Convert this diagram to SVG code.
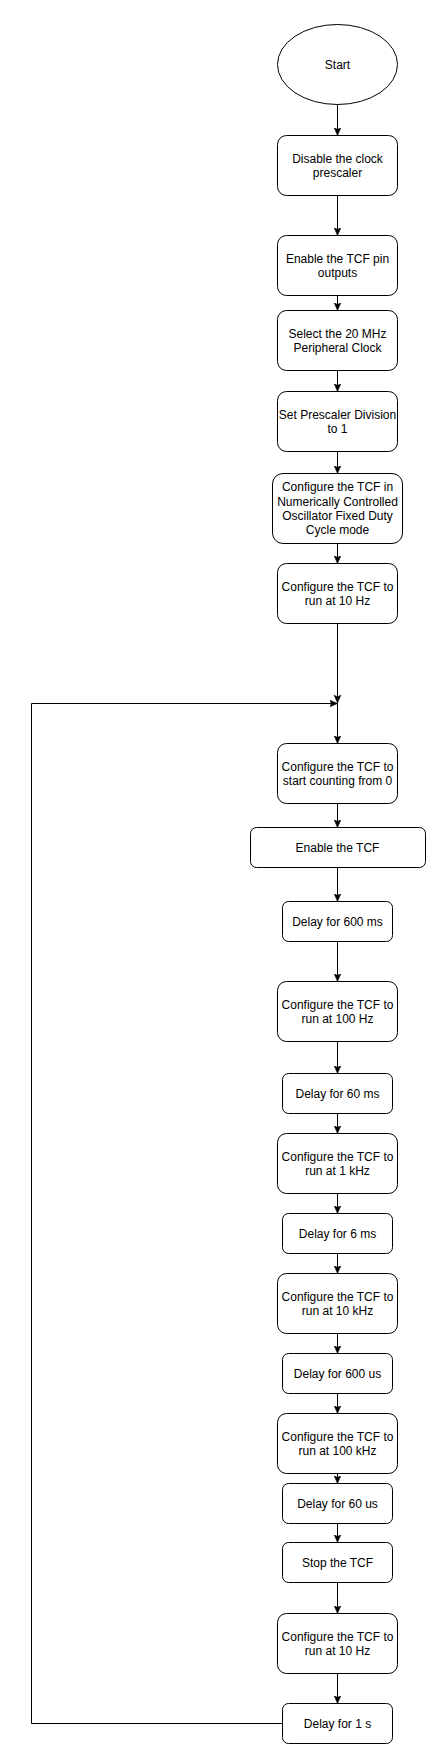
<svg xmlns="http://www.w3.org/2000/svg" width="426" height="1744" viewBox="0 0 426 1744">
<defs>
<style>
.n{fill:#fff;stroke:#000;stroke-width:1}
.t{font-family:"Liberation Sans",Arial,Helvetica,sans-serif;font-size:12px;fill:#000;text-anchor:middle}
.c{fill:none;stroke:#000;stroke-width:1}
</style>
<marker id="arr" markerWidth="10" markerHeight="10" viewBox="0 0 10 10" refX="8" refY="5" orient="auto" markerUnits="userSpaceOnUse">
<path d="M0,1.5 L8,5 L0,8.5 L2,5 Z" fill="#000" stroke="#000" stroke-width="0.5"/>
</marker>
</defs>
<rect width="426" height="1744" fill="#fff"/>
<g id="connectors">
<path class="c" d="M337.5,104.5 V135.5" marker-end="url(#arr)"/>
<path class="c" d="M337.5,195.5 V235.5" marker-end="url(#arr)"/>
<path class="c" d="M337.5,295.5 V310.5" marker-end="url(#arr)"/>
<path class="c" d="M337.5,370.5 V391.5" marker-end="url(#arr)"/>
<path class="c" d="M337.5,451.5 V473.5" marker-end="url(#arr)"/>
<path class="c" d="M337.5,543.5 V563.5" marker-end="url(#arr)"/>
<path class="c" d="M337.5,623.5 V703" marker-end="url(#arr)"/>
<path class="c" d="M282.5,1723.5 H31.5 V703.5 H337.5" marker-end="url(#arr)"/>
<path class="c" d="M337.5,703.5 V743.5" marker-end="url(#arr)"/>
<path class="c" d="M337.5,803.5 V827.5" marker-end="url(#arr)"/>
<path class="c" d="M337.5,867.5 V901.5" marker-end="url(#arr)"/>
<path class="c" d="M337.5,941.5 V981.5" marker-end="url(#arr)"/>
<path class="c" d="M337.5,1041.5 V1073.5" marker-end="url(#arr)"/>
<path class="c" d="M337.5,1113.5 V1133.5" marker-end="url(#arr)"/>
<path class="c" d="M337.5,1193.5 V1213.5" marker-end="url(#arr)"/>
<path class="c" d="M337.5,1253.5 V1273.5" marker-end="url(#arr)"/>
<path class="c" d="M337.5,1333.5 V1353.5" marker-end="url(#arr)"/>
<path class="c" d="M337.5,1393.5 V1413.5" marker-end="url(#arr)"/>
<path class="c" d="M337.5,1473.5 V1483.5" marker-end="url(#arr)"/>
<path class="c" d="M337.5,1523.5 V1542.5" marker-end="url(#arr)"/>
<path class="c" d="M337.5,1582.5 V1613.5" marker-end="url(#arr)"/>
<path class="c" d="M337.5,1673.5 V1703.5" marker-end="url(#arr)"/>
</g>
<g id="start"><ellipse class="n" cx="337.5" cy="64.5" rx="60" ry="40"/><text class="t" x="337.5" y="68.8">Start</text></g>
<g id="n1"><rect class="n" x="277.5" y="135.5" width="120" height="60" rx="9"/><text class="t" x="337.5" y="162.6">Disable the clock</text><text class="t" x="337.5" y="177">prescaler</text></g>
<g id="n2"><rect class="n" x="277.5" y="235.5" width="120" height="60" rx="9"/><text class="t" x="337.5" y="262.6">Enable the TCF pin</text><text class="t" x="337.5" y="277">outputs</text></g>
<g id="n3"><rect class="n" x="277.5" y="310.5" width="120" height="60" rx="9"/><text class="t" x="337.5" y="337.6">Select the 20 MHz</text><text class="t" x="337.5" y="352">Peripheral Clock</text></g>
<g id="n4"><rect class="n" x="277.5" y="391.5" width="120" height="60" rx="9"/><text class="t" x="337.5" y="418.6">Set Prescaler Division</text><text class="t" x="337.5" y="433">to 1</text></g>
<g id="n5"><rect class="n" x="272.5" y="473.5" width="130" height="70" rx="10.5"/><text class="t" x="337.5" y="491.2">Configure the TCF in</text><text class="t" x="337.5" y="505.6">Numerically Controlled</text><text class="t" x="337.5" y="520">Oscillator Fixed Duty</text><text class="t" x="337.5" y="534.4">Cycle mode</text></g>
<g id="n6"><rect class="n" x="277.5" y="563.5" width="120" height="60" rx="9"/><text class="t" x="337.5" y="590.6">Configure the TCF to</text><text class="t" x="337.5" y="605">run at 10 Hz</text></g>
<g id="n7"><rect class="n" x="277.5" y="743.5" width="120" height="60" rx="9"/><text class="t" x="337.5" y="770.6">Configure the TCF to</text><text class="t" x="337.5" y="785">start counting from 0</text></g>
<g id="n8"><rect class="n" x="250.5" y="827.5" width="175" height="40" rx="6"/><text class="t" x="337.5" y="851.8">Enable the TCF</text></g>
<g id="n9"><rect class="n" x="282.5" y="901.5" width="110" height="40" rx="6"/><text class="t" x="337.5" y="925.8">Delay for 600 ms</text></g>
<g id="n10"><rect class="n" x="277.5" y="981.5" width="120" height="60" rx="9"/><text class="t" x="337.5" y="1008.6">Configure the TCF to</text><text class="t" x="337.5" y="1023">run at 100 Hz</text></g>
<g id="n11"><rect class="n" x="282.5" y="1073.5" width="110" height="40" rx="6"/><text class="t" x="337.5" y="1097.8">Delay for 60 ms</text></g>
<g id="n12"><rect class="n" x="277.5" y="1133.5" width="120" height="60" rx="9"/><text class="t" x="337.5" y="1160.6">Configure the TCF to</text><text class="t" x="337.5" y="1175">run at 1 kHz</text></g>
<g id="n13"><rect class="n" x="282.5" y="1213.5" width="110" height="40" rx="6"/><text class="t" x="337.5" y="1237.8">Delay for 6 ms</text></g>
<g id="n14"><rect class="n" x="277.5" y="1273.5" width="120" height="60" rx="9"/><text class="t" x="337.5" y="1300.6">Configure the TCF to</text><text class="t" x="337.5" y="1315">run at 10 kHz</text></g>
<g id="n15"><rect class="n" x="282.5" y="1353.5" width="110" height="40" rx="6"/><text class="t" x="337.5" y="1377.8">Delay for 600 us</text></g>
<g id="n16"><rect class="n" x="277.5" y="1413.5" width="120" height="60" rx="9"/><text class="t" x="337.5" y="1440.6">Configure the TCF to</text><text class="t" x="337.5" y="1455">run at 100 kHz</text></g>
<g id="n17"><rect class="n" x="282.5" y="1483.5" width="110" height="40" rx="6"/><text class="t" x="337.5" y="1507.8">Delay for 60 us</text></g>
<g id="n18"><rect class="n" x="282.5" y="1542.5" width="110" height="40" rx="6"/><text class="t" x="337.5" y="1566.8">Stop the TCF</text></g>
<g id="n19"><rect class="n" x="277.5" y="1613.5" width="120" height="60" rx="9"/><text class="t" x="337.5" y="1640.6">Configure the TCF to</text><text class="t" x="337.5" y="1655">run at 10 Hz</text></g>
<g id="n20"><rect class="n" x="282.5" y="1703.5" width="110" height="40" rx="6"/><text class="t" x="337.5" y="1727.8">Delay for 1 s</text></g>
</svg>
